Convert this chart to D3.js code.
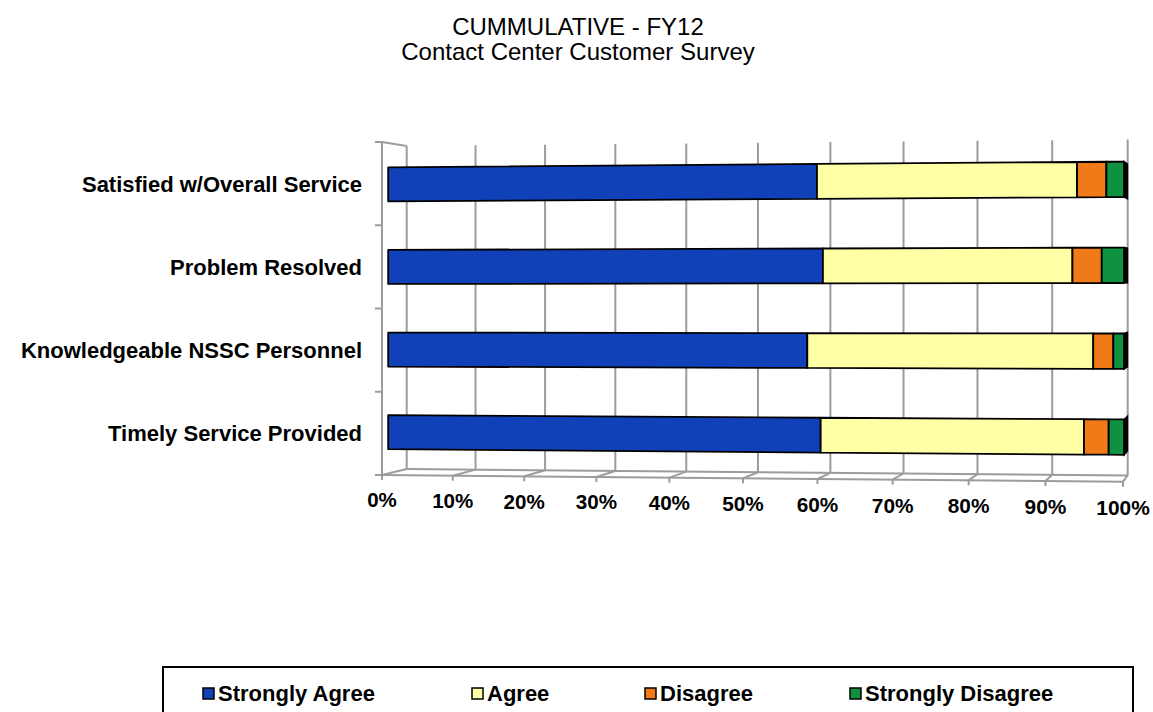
<!DOCTYPE html>
<html>
<head>
<meta charset="utf-8">
<script src="https://cdn.jsdelivr.net/npm/d3@7"></script>
<style>
  html, body { margin: 0; padding: 0; background: #fff; }
  svg { display: block; font-family: Arial, 'Liberation Sans', sans-serif; }
</style>
</head>
<body>
<div id="chart"></div>
<script>
/* Cumulative FY12 survey - pseudo 3D stacked 100% bars */

var titleLines = ['CUMMULATIVE - FY12', 'Contact Center Customer Survey'];
var categories = ['Satisfied w/Overall Service', 'Problem Resolved', 'Knowledgeable NSSC Personnel', 'Timely Service Provided'];
var seriesNames = ['Strongly Agree', 'Agree', 'Disagree', 'Strongly Disagree'];
var stronglyAgree = [59.5, 60.3, 58.2, 60.0];
var agree = [34.4, 33.0, 37.8, 34.8];
var disagree = [3.8, 3.8, 2.6, 3.2];
var stronglyDisagree = [2.3, 2.9, 1.4, 2.0];
var tickValues = [0, 10, 20, 30, 40, 50, 60, 70, 80, 90, 100];
var seriesColors = ['#1141b8', '#ffffa6', '#f07a17', '#0f923f'];

var W = 1153, H = 712;
var gridColor = '#9c9c9c';

var svg = d3.select('#chart').append('svg')
  .attr('width', W)
  .attr('height', H);

// value -> depth-free position (0..1), category -> vertical position (0..1)
var x = d3.scaleLinear().domain([0, 100]).range([0, 1]);
var y = d3.scaleBand().domain(categories).range([0, 1])
  .paddingInner(0.588).paddingOuter(0.294);

// simple perspective projection of the chart box
var box = { a0: 382, a1: 406.7, b0: 684.85, b1: 664.6, persp: 0.05,
            top0: 142, top1: 146, bot0: 475, bot1: 469, cy: 308.5, ky: 0.04 };

function proj(t, v, z) {
  var a = box.a0 + (box.a1 - box.a0) * z;
  var b = box.b0 + (box.b1 - box.b0) * z;
  var px = (a + b * t) / (1 - box.persp * t);
  var top = box.top0 + (box.top1 - box.top0) * z;
  var bot = box.bot0 + (box.bot1 - box.bot0) * z;
  var y0 = top + (bot - top) * v;
  var py = box.cy + (y0 - box.cy) * (1 + box.ky * t);
  return [px, py];
}

function poly(pts) {
  return 'M' + pts.map(function(p) { return p[0].toFixed(2) + ',' + p[1].toFixed(2); }).join('L') + 'Z';
}
function seg(p, q) {
  return 'M' + p[0].toFixed(2) + ',' + p[1].toFixed(2) + 'L' + q[0].toFixed(2) + ',' + q[1].toFixed(2);
}

// Title
svg.append('g').selectAll('text')
  .data(titleLines)
  .enter().append('text')
  .attr('x', 578)
  .attr('y', function(d, i) { return 35 + i * 25; })
  .attr('text-anchor', 'middle')
  .attr('font-size', '24px')
  .attr('fill', '#000')
  .text(function(d) { return d; });

// Walls and floor
var walls = svg.append('g')
  .attr('fill', 'none')
  .attr('stroke', gridColor)
  .attr('stroke-width', 2);

// back wall gridlines
walls.selectAll('.grid')
  .data(tickValues)
  .enter().append('path')
  .attr('d', function(d) { return seg(proj(x(d), 0, 1), proj(x(d), 1, 1)); });

// left wall front edge + top connector
walls.append('path').attr('d', seg(proj(0, 0, 0), proj(0, 1, 0)));
walls.append('path').attr('d', seg(proj(0, 0, 0), proj(0, 0, 1)));

// left axis ticks at category boundaries
walls.selectAll('.ltick')
  .data(d3.range(categories.length + 1))
  .enter().append('path')
  .attr('d', function(i) {
    var p = proj(0, i / categories.length, 0);
    return seg([p[0] - 7, p[1]], p);
  });

// floor: front edge, back edge and diagonals
walls.append('path').attr('d', seg(proj(0, 1, 0), proj(1, 1, 0)));
walls.append('path').attr('d', seg(proj(0, 1, 1), proj(1, 1, 1)));
walls.selectAll('.diag')
  .data(tickValues)
  .enter().append('path')
  .attr('d', function(d) { return seg(proj(x(d), 1, 0), proj(x(d), 1, 1)); });

// floor ticks
walls.selectAll('.btick')
  .data(tickValues)
  .enter().append('path')
  .attr('d', function(d) {
    var p = proj(x(d), 1, 0);
    return seg(p, [p[0], p[1] + 5]);
  });

// Bars
var rows = categories.map(function(c, i) {
  return { cat: c, sa: stronglyAgree[i], a: agree[i], d: disagree[i], sd: stronglyDisagree[i] };
});
var stack = d3.stack().keys(['sa', 'a', 'd', 'sd']);
var stacked = stack(rows);
var zFace = 0.25;

var bars = svg.append('g');
stacked.forEach(function(layer, li) {
  bars.selectAll('.s' + li)
    .data(layer)
    .enter().append('path')
    .attr('d', function(d) {
      var v0 = y(d.data.cat), v1 = v0 + y.bandwidth();
      var t0 = x(d[0]), t1 = x(d[1]);
      return poly([proj(t0, v0, zFace), proj(t1, v0, zFace), proj(t1, v1, zFace), proj(t0, v1, zFace)]);
    })
    .attr('fill', seriesColors[li])
    .attr('stroke', '#000')
    .attr('stroke-width', 1.8)
    .attr('stroke-linejoin', 'round');
});

// right end caps (side face of the bar)
bars.selectAll('.cap')
  .data(rows)
  .enter().append('path')
  .attr('d', function(d) {
    var v0 = y(d.cat), v1 = v0 + y.bandwidth();
    var t = x(d.sa + d.a + d.d + d.sd);
    return poly([proj(t, v0, zFace), proj(t, v0, 0.95), proj(t, v1, 0.95), proj(t, v1, zFace)]);
  })
  .attr('fill', '#050505')
  .attr('stroke', '#000')
  .attr('stroke-width', 1.5);

// Category labels
svg.append('g').selectAll('text')
  .data(categories)
  .enter().append('text')
  .attr('x', 362)
  .attr('y', function(d) { return proj(0, y(d) + y.bandwidth() / 2, 0)[1] + 8; })
  .attr('text-anchor', 'end')
  .attr('font-size', '22px')
  .attr('font-weight', 'bold')
  .attr('fill', '#000')
  .text(function(d) { return d; });

// Value axis labels
svg.append('g').selectAll('text')
  .data(tickValues)
  .enter().append('text')
  .attr('x', function(d) { return proj(x(d), 1, 0)[0]; })
  .attr('y', function(d) { return proj(x(d), 1.096, 0)[1]; })
  .attr('text-anchor', 'middle')
  .attr('font-size', function(d) { return (20.5 * (1 + 0.02 * x(d))).toFixed(2) + 'px'; })
  .attr('font-weight', 'bold')
  .attr('fill', '#000')
  .text(function(d) { return d + '%'; });

// Legend
var legend = svg.append('g');
legend.append('rect')
  .attr('x', 163).attr('y', 667)
  .attr('width', 970).attr('height', 60)
  .attr('fill', '#fff')
  .attr('stroke', '#000')
  .attr('stroke-width', 2);

var legendX = [203, 472, 645, 850];
var item = legend.selectAll('.item')
  .data(seriesNames)
  .enter().append('g')
  .attr('transform', function(d, i) { return 'translate(' + legendX[i] + ',688)'; });
item.append('rect')
  .attr('width', 11).attr('height', 11)
  .attr('fill', function(d, i) { return seriesColors[i]; })
  .attr('stroke', '#000')
  .attr('stroke-width', 1.5);
item.append('text')
  .attr('x', 15)
  .attr('y', 13)
  .attr('font-size', '22px')
  .attr('font-weight', 'bold')
  .attr('fill', '#000')
  .text(function(d) { return d; });
</script>
</body>
</html>
